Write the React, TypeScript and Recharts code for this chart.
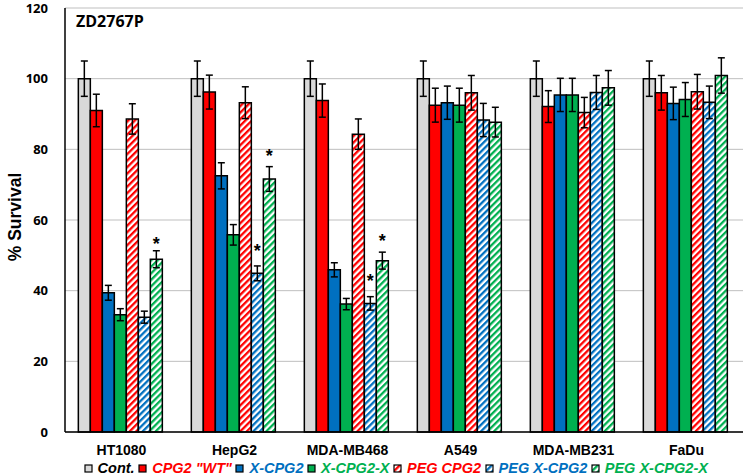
import React from "react"
import { Bar, BarChart, CartesianGrid, ErrorBar, LabelList, XAxis, YAxis } from "recharts"

const cells = ["HT1080", "HepG2", "MDA-MB468", "A549", "MDA-MB231", "FaDu"]

const cont = [100, 100, 100, 100, 100, 100]
const contErr = [5, 5, 5, 5, 5, 5]
const wt = [91, 96.2, 93.8, 92.5, 92.1, 96.0]
const wtErr = [4.6, 4.8, 4.7, 4.8, 4.5, 4.9]
const xCpg2 = [39.4, 72.5, 45.9, 93.2, 95.4, 93.0]
const xCpg2Err = [2.1, 3.7, 2.0, 4.7, 4.7, 4.6]
const xCpg2X = [33.2, 55.8, 36.2, 92.5, 95.4, 94.1]
const xCpg2XErr = [1.7, 2.9, 1.6, 4.8, 4.7, 4.8]
const pegCpg2 = [88.6, 93.2, 84.3, 96.0, 90.4, 96.3]
const pegCpg2Err = [4.3, 4.5, 4.3, 4.9, 4.3, 4.9]
const pegX = [32.5, 44.9, 36.4, 88.3, 96.1, 93.3]
const pegXErr = [1.7, 2.1, 1.9, 4.7, 4.8, 4.6]
const pegXX = [48.9, 71.6, 48.5, 87.7, 97.4, 100.9]
const pegXXErr = [2.4, 3.5, 2.4, 4.2, 4.9, 5.0]

// where the significance stars sit (value units)
const pegXStar = [null, 52.4, 44.0, null, null, null]
const pegXXStar = [54.3, 79.3, 55.3, null, null, null]

const yTicks = [0, 20, 40, 60, 80, 100, 120]

const data = cells.map((cell, i) => ({
  cell,
  cont: cont[i],
  contErr: contErr[i],
  wt: wt[i],
  wtErr: wtErr[i],
  xc: xCpg2[i],
  xcErr: xCpg2Err[i],
  xcx: xCpg2X[i],
  xcxErr: xCpg2XErr[i],
  peg: pegCpg2[i],
  pegErr: pegCpg2Err[i],
  pegX: pegX[i],
  pegXErr: pegXErr[i],
  pegXX: pegXX[i],
  pegXXErr: pegXXErr[i],
  pegXStar: pegXStar[i],
  pegXXStar: pegXXStar[i],
}))

const GRAY = "#d9d9d9"
const RED = "#ff0000"
const BLUE = "#0070c0"
const GREEN = "#00b050"

const series = [
  { key: "cont", fill: GRAY, label: "Cont.", text: "#000" },
  { key: "wt", fill: RED, label: 'CPG2 "WT"', text: RED },
  { key: "xc", fill: BLUE, label: "X-CPG2", text: BLUE },
  { key: "xcx", fill: GREEN, label: "X-CPG2-X", text: GREEN },
  { key: "peg", fill: "url(#hatchRed)", label: "PEG CPG2", text: RED },
  { key: "pegX", fill: "url(#hatchBlue)", label: "PEG X-CPG2", text: BLUE },
  { key: "pegXX", fill: "url(#hatchGreen)", label: "PEG X-CPG2-X", text: GREEN },
]

function Patterns() {
  const hatch = (id: string, color: string) => (
    <pattern id={id} width="4.6" height="4.6" patternUnits="userSpaceOnUse" patternTransform="rotate(45)">
      <rect width="4.6" height="4.6" fill="#fff" />
      <rect width="2.3" height="4.6" fill={color} />
    </pattern>
  )
  return (
    <svg width="0" height="0" style={{ position: "absolute" }}>
      <defs>
        {hatch("hatchRed", RED)}
        {hatch("hatchBlue", BLUE)}
        {hatch("hatchGreen", GREEN)}
      </defs>
    </svg>
  )
}

const makeStar = (values: number[]) => (props: any) => {
  const vb = props.viewBox || props
  const { index, value } = props
  if (value == null) return null
  const x = vb.x ?? props.x
  const y = vb.y ?? props.y
  const w = vb.width ?? props.width
  const h = vb.height ?? props.height
  const base = y + h
  const perUnit = h / values[index]
  const cy = base - value * perUnit
  return (
    <text
      x={x + w / 2}
      y={cy + 10}
      textAnchor="middle"
      fontFamily="Liberation Sans, Arial, sans-serif"
      fontWeight="bold"
      fontSize={18}
      fill="#000"
    >
      *
    </text>
  )
}

function YLabel(props: any) {
  const vb = props.viewBox
  const cx = 15
  const cy = vb.y + vb.height / 2 - 3
  return (
    <text
      x={cx}
      y={cy}
      transform={`rotate(-90, ${cx}, ${cy})`}
      textAnchor="middle"
      dominantBaseline="central"
      fontFamily="Liberation Sans, Arial, sans-serif"
      fontWeight="bold"
      fontSize={17.5}
      fill="#000"
    >
      % Survival
    </text>
  )
}

function LegendRow() {
  return (
    <div
      style={{
        position: "absolute",
        left: 0,
        top: 459,
        width: 795,
        display: "flex",
        justifyContent: "center",
        fontFamily: "Liberation Sans, Arial, sans-serif",
        fontWeight: "bold",
        fontStyle: "italic",
        fontSize: 14.5,
        lineHeight: "18px",
        whiteSpace: "nowrap",
      }}
    >
      {series.map((s) => (
        <span key={s.key} style={{ display: "inline-flex", alignItems: "center", marginRight: 3.5 }}>
          <svg width="9" height="9" style={{ marginRight: 5 }}>
            <rect x="1" y="1" width="7" height="7" fill={s.fill} stroke="#000" strokeWidth="1.2" />
          </svg>
          <span style={{ color: s.text }}>{s.label}</span>
        </span>
      ))}
    </div>
  )
}

export default function App() {
  return (
    <div style={{ position: "absolute", left: 0, top: 0, width: 747, height: 476, background: "#fff" }}>
      <Patterns />
      <BarChart
        width={747}
        height={476}
        data={data}
        margin={{ top: 8, right: 4, left: 0, bottom: 14 }}
        barGap={0}
        barCategoryGap="11.8%"
      >
        <CartesianGrid vertical={false} stroke="#bfbfbf" strokeWidth={1} />
        <XAxis
          dataKey="cell"
          height={30}
          tickLine={false}
          tickSize={0}
          tickMargin={13}
          axisLine={{ stroke: "#000", strokeWidth: 1.5 }}
          tick={{ fontFamily: "Liberation Sans, Arial, sans-serif", fontWeight: "bold", fontSize: 14, fill: "#000" }}
        />
        <YAxis
          width={65}
          domain={[0, 120]}
          ticks={yTicks}
          interval={0}
          tickLine={false}
          tickSize={0}
          tickMargin={17}
          axisLine={{ stroke: "#000", strokeWidth: 1.5 }}
          tick={{ fontFamily: "Open Sans, sans-serif", fontWeight: "bold", fontSize: 13, fill: "#000" }}
          label={<YLabel />}
        />
        {series.map((s) => (
          <Bar key={s.key} dataKey={s.key} fill={s.fill} stroke="#000" strokeWidth={1.5} isAnimationActive={false}>
            <ErrorBar dataKey={`${s.key}Err`} width={3.5} stroke="#000" strokeWidth={1.5} direction="y" />
            {s.key === "pegX" && (
              <LabelList dataKey="pegXStar" content={makeStar(pegX)} />
            )}
            {s.key === "pegXX" && (
              <LabelList dataKey="pegXXStar" content={makeStar(pegXX)} />
            )}
          </Bar>
        ))}
      </BarChart>
      <div
        style={{
          position: "absolute",
          left: 76,
          top: 11,
          fontFamily: "Open Sans, sans-serif",
          fontWeight: "bold",
          fontSize: 16,
          lineHeight: "20px",
          color: "#000",
        }}
      >
        ZD2767P
      </div>
      <LegendRow />
    </div>
  )
}
